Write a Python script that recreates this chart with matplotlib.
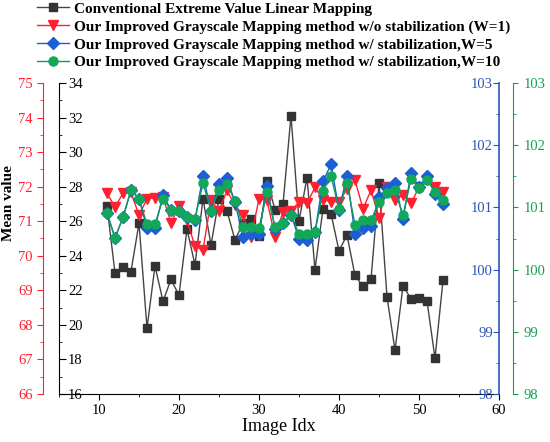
import numpy as np
import matplotlib
matplotlib.use("Agg")
import matplotlib.pyplot as plt
from matplotlib.ticker import MultipleLocator

plt.rcParams['font.family'] = ['Liberation Serif', 'DejaVu Serif']

# image index 11..53
idx = list(range(11, 54))

# Conventional Extreme Value Linear Mapping (black axis, 16-34)
conv = [26.87, 23.01, 23.37, 23.09, 25.89, 19.81, 23.41, 21.37, 22.63, 21.71,
        25.54, 23.47, 27.30, 24.63, 27.30, 26.59, 24.91, 25.90, 26.11, 25.16,
        28.34, 26.67, 26.97, 32.10, 26.00, 28.53, 23.20, 26.72, 26.44, 24.29,
        25.20, 22.86, 22.23, 22.63, 28.19, 21.62, 18.53, 22.25, 21.52, 21.58,
        21.39, 18.06, 22.57]

# w/o stabilization, W=1 (red axis, 66-75)
w1 = [71.81, 71.41, 71.81, 71.84, 71.17, 71.65, 71.68, 71.70, 70.95, 71.43,
      71.03, 70.27, 70.17, 71.60, 71.30, 71.89, 71.46, 71.17, 70.53, 71.65,
      71.60, 70.55, 71.27, 71.30, 71.55, 71.52, 71.98, 71.62, 71.57, 71.57,
      71.93, 72.19, 71.36, 71.90, 71.10, 71.98, 71.62, 71.76, 71.52, 71.98,
      72.19, 72.00, 71.84]

# w/ stabilization, W=5 (blue axis, 98-103)
w5 = [100.91, 100.51, 100.84, 101.28, 101.14, 100.67, 100.67, 101.20, 100.96, 100.94,
      100.85, 100.79, 101.51, 100.95, 101.37, 101.47, 101.08, 100.53, 100.57, 100.57,
      101.35, 100.65, 100.75, 100.88, 100.50, 100.48, 100.60, 101.42, 101.69, 100.96,
      101.50, 100.57, 100.67, 100.70, 101.16, 101.31, 101.40, 100.81, 101.55, 101.32,
      101.50, 101.22, 101.05]

# w/ stabilization, W=10 (green axis, 98-103)
w10 = [100.91, 100.51, 100.84, 101.28, 101.14, 100.73, 100.73, 101.14, 100.96, 100.94,
       100.85, 100.82, 101.39, 100.95, 101.28, 101.37, 101.11, 100.69, 100.69, 100.67,
       101.24, 100.69, 100.75, 100.88, 100.57, 100.57, 100.60, 101.27, 101.51, 100.97,
       101.39, 100.72, 100.80, 100.80, 101.08, 101.23, 101.28, 100.87, 101.46, 101.31,
       101.44, 101.25, 101.12]

labels = ["Conventional Extreme Value Linear Mapping",
          "Our Improved Grayscale Mapping method w/o stabilization (W=1)",
          "Our Improved Grayscale Mapping method w/ stabilization,W=5",
          "Our Improved Grayscale Mapping method w/ stabilization,W=10"]

c_black = '#333333'
c_red = '#ff2030'
c_blue = '#1c5fd4'
c_green = '#12a85a'
c_blue_ax = '#2a55b8'
c_green_ax = '#14a050'

fig = plt.figure(figsize=(5.5, 4.42), dpi=100)
ax = fig.add_axes([59/550, 1-394/442, 440/550, 311/442])
ax_r = ax.twinx()
ax_b = ax.twinx()
ax_g = ax.twinx()

l1, = ax.plot(idx, conv, color='#444444', lw=1, marker='s', ms=6,
              mfc=c_black, mec=c_black, zorder=3)
l2, = ax_r.plot(idx, w1, color=c_red, lw=1, marker='v', ms=7.5,
                mfc=c_red, mec=c_red)
l3, = ax_b.plot(idx, w5, color=c_blue, lw=1, marker='D', ms=6,
                mfc=c_blue, mec=c_blue)
l4, = ax_g.plot(idx, w10, color='#0f9a5a', lw=1, marker='o', ms=6.5,
                mfc=c_green, mec=c_green)

# x axis
ax.set_xlim(5, 60)
ax.xaxis.set_major_locator(MultipleLocator(10))
ax.xaxis.set_minor_locator(MultipleLocator(5))
ax.tick_params(axis='x', which='major', direction='out', length=4, labelsize=10.5, pad=3)
ax.tick_params(axis='x', which='minor', direction='out', length=2)
ax.set_xlabel("Image Idx", fontsize=13, labelpad=1)

# black axis, labels inside
ax.set_ylim(16, 34)
ax.yaxis.set_major_locator(MultipleLocator(2))
ax.yaxis.set_minor_locator(MultipleLocator(1))
ax.tick_params(axis='y', which='major', direction='in', length=5, labelsize=10.5, pad=-6.5)
ax.tick_params(axis='y', which='minor', direction='in', length=2.5)
for t in ax.get_yticklabels():
    t.set_horizontalalignment('left')
ax.spines['top'].set_visible(False)
ax.spines['right'].set_visible(False)

# red axis on the far left
ax_r.set_ylim(66, 75)
ax_r.yaxis.set_ticks_position('left')
ax_r.yaxis.set_label_position('left')
for s in ['top', 'right', 'bottom']:
    ax_r.spines[s].set_visible(False)
ax_r.spines['left'].set_visible(True)
ax_r.spines['left'].set_position(('outward', 11.5))
ax_r.spines['left'].set_color(c_red)
ax_r.yaxis.set_major_locator(MultipleLocator(1))
ax_r.yaxis.set_minor_locator(MultipleLocator(0.5))
ax_r.tick_params(axis='y', which='major', direction='out', length=4.5, color=c_red,
                 labelcolor=c_red, labelsize=10.5, pad=3)
ax_r.tick_params(axis='y', which='minor', direction='out', length=2.5, color=c_red)
ax_r.set_ylabel("Mean value", fontsize=11, fontweight='bold')
ax_r.yaxis.set_label_coords(-0.1, 0.614)

# blue axis on the right, labels inside
ax_b.set_ylim(98, 103)
for s in ['top', 'left', 'bottom']:
    ax_b.spines[s].set_visible(False)
ax_b.spines['right'].set_color(c_blue_ax)
ax_b.spines['right'].set_linewidth(1.2)
ax_b.yaxis.set_major_locator(MultipleLocator(1))
ax_b.yaxis.set_minor_locator(MultipleLocator(0.5))
ax_b.tick_params(axis='y', which='major', direction='in', length=4.5, color=c_blue_ax,
                 labelcolor=c_blue_ax, labelsize=10.5, pad=-4.5)
ax_b.tick_params(axis='y', which='minor', direction='in', length=2.5, color=c_blue_ax)
for t in ax_b.get_yticklabels():
    t.set_horizontalalignment('right')

# green axis, outward on the right
ax_g.set_ylim(98, 103)
for s in ['top', 'left', 'bottom']:
    ax_g.spines[s].set_visible(False)
ax_g.spines['right'].set_position(('outward', 10))
ax_g.spines['right'].set_color(c_green_ax)
ax_g.yaxis.set_major_locator(MultipleLocator(1))
ax_g.yaxis.set_minor_locator(MultipleLocator(0.5))
ax_g.tick_params(axis='y', which='major', direction='out', length=3.5, color=c_green_ax,
                 labelcolor=c_green_ax, labelsize=10.5, pad=4)
ax_g.tick_params(axis='y', which='minor', direction='out', length=2, color=c_green_ax)

fig.legend([l1, l2, l3, l4], labels, loc='upper left', bbox_to_anchor=(37/550, 1 - 2/442),
           frameon=False, prop={'weight': 'bold', 'size': 11}, handlelength=2.1,
           handletextpad=0.3, labelspacing=0.27, borderaxespad=0.0, borderpad=0.0)

fig.savefig("out.png", dpi=100)
